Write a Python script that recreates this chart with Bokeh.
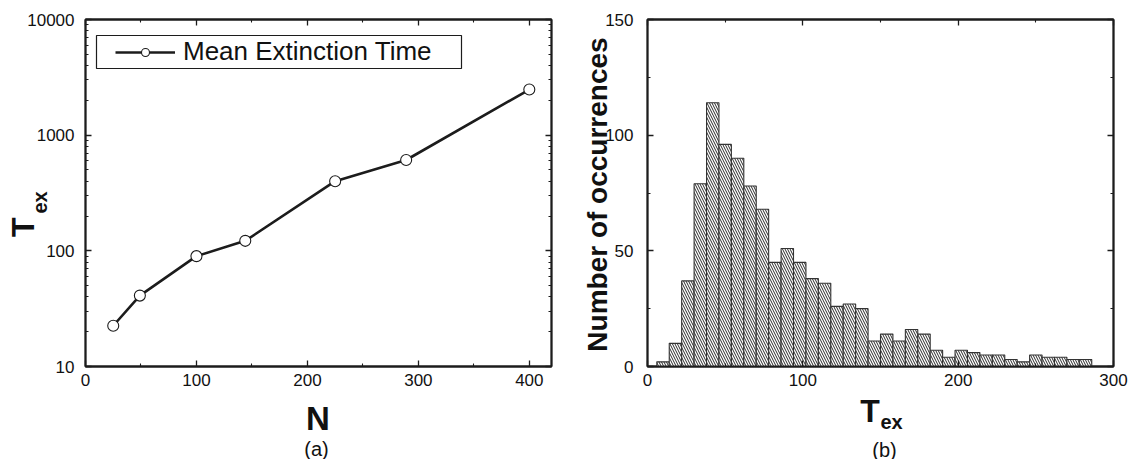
from math import pi

from bokeh.plotting import figure
from bokeh.layouts import row, column
from bokeh.models import (LinearAxis, LogAxis, FixedTicker, BasicTickFormatter,
                          Label, BoxAnnotation, Range1d, ColumnDataSource, GridBox)
from bokeh.embed import file_html
from bokeh.resources import INLINE

# ---- panel (a): mean extinction time against system size N ----
n_sizes = [25, 49, 100, 144, 225, 289, 400]
mean_t_ex = [22.5, 41, 90, 122, 400, 610, 2480]
x_ticks_a = [0, 100, 200, 300, 400]
x_minor_a = [50, 150, 250, 350]
y_ticks_a = [10, 100, 1000, 10000]
y_minor_a = [20, 30, 40, 50, 60, 70, 80, 90,
             200, 300, 400, 500, 600, 700, 800, 900,
             2000, 3000, 4000, 5000, 6000, 7000, 8000, 9000]

# ---- panel (b): histogram of extinction times ----
bin_start = 6
bin_width = 8
counts = [2, 10, 37, 79, 114, 96, 90, 78, 68, 45, 51, 45, 38, 36, 26, 27, 25,
          11, 14, 11, 16, 14, 7, 4, 7, 6, 5, 5, 3, 2, 5, 4, 4, 3, 3]
x_ticks_b = [0, 100, 200, 300]
x_minor_b = [50, 150, 250]
y_ticks_b = [0, 50, 100, 150]
y_minor_b = [25, 75, 125]

FONT = "Liberation Sans"
INK = "#1c1c1c"
W, H = 1133, 459


def style_axis(ax, ticks, minor, labels=True):
    ax.ticker = FixedTicker(ticks=ticks, minor_ticks=minor)
    ax.formatter = BasicTickFormatter(use_scientific=False)
    ax.axis_line_color = INK
    ax.axis_line_width = 1.8
    ax.major_tick_in = 6
    ax.major_tick_out = 0
    ax.minor_tick_in = 3
    ax.minor_tick_out = 0
    ax.major_tick_line_color = INK
    ax.minor_tick_line_color = INK
    ax.major_tick_line_width = 1.3
    ax.minor_tick_line_width = 1.1
    ax.major_label_text_font = FONT
    ax.major_label_text_font_size = "17px"
    ax.major_label_text_color = "#111111"
    ax.major_label_standoff = 7
    ax.axis_label = None
    if not labels:
        # mirrored axis: ticks only
        ax.major_label_text_font_size = "1px"
        ax.major_label_text_color = None
        ax.major_label_standoff = 0


def base_figure(x_range, y_range, left, right, **kw):
    p = figure(frame_width=466, frame_height=347, min_border_left=left,
               min_border_right=right, min_border_top=19, min_border_bottom=93,
               x_range=x_range, y_range=y_range, output_backend="svg",
               toolbar_location=None, background_fill_color="white",
               border_fill_color="white", **kw)
    p.grid.visible = False
    p.outline_line_color = INK
    p.outline_line_width = 1.8
    return p


# ================= panel (a) =================
pa = base_figure(Range1d(0, 420), Range1d(10, 10000), 85, 15, y_axis_type="log")
pa.add_layout(LinearAxis(), "above")
pa.add_layout(LogAxis(), "right")
style_axis(pa.below[0], x_ticks_a, x_minor_a)
style_axis(pa.above[0], x_ticks_a, x_minor_a, labels=False)
style_axis(pa.left[0], y_ticks_a, y_minor_a)
style_axis(pa.right[0], y_ticks_a, y_minor_a, labels=False)
pa.left[0].major_label_standoff = 11

src_a = ColumnDataSource(dict(n=n_sizes, t=mean_t_ex))
pa.line("n", "t", source=src_a, line_color=INK, line_width=2.6,
        legend_label="Mean Extinction Time")
pa.scatter("n", "t", source=src_a, size=11, fill_color="white",
           line_color=INK, line_width=1.1, legend_label="Mean Extinction Time")

leg = pa.legend[0]
leg.location = (30, 299)
leg.margin = 0
leg.padding = 0
leg.spacing = 0
leg.border_line_alpha = 0
leg.background_fill_alpha = 0
leg.glyph_width = 60
leg.glyph_height = 20
leg.label_standoff = 8
leg.label_text_font = FONT
leg.label_text_font_size = "26px"
leg.label_text_color = "#111111"

pa.add_layout(BoxAnnotation(left=11, right=376, top=331, bottom=298,
                            left_units="screen", right_units="screen",
                            top_units="screen", bottom_units="screen",
                            fill_alpha=0, line_color=INK, line_width=1.2,
                            line_alpha=1))

# ================= panel (b) =================
edges = [bin_start + bin_width * i for i in range(len(counts) + 1)]
src_b = ColumnDataSource(dict(left=edges[:-1], right=edges[1:], top=counts,
                              bottom=[0] * len(counts)))

pb = base_figure(Range1d(0, 300), Range1d(0, 150), 81, 20)
pb.add_layout(LinearAxis(), "above")
pb.add_layout(LinearAxis(), "right")
style_axis(pb.below[0], x_ticks_b, x_minor_b)
style_axis(pb.above[0], x_ticks_b, x_minor_b, labels=False)
style_axis(pb.left[0], y_ticks_b, y_minor_b)
style_axis(pb.right[0], y_ticks_b, y_minor_b, labels=False)
pb.left[0].major_label_standoff = 14

pb.quad(left="left", right="right", top="top", bottom="bottom", source=src_b,
        fill_color="white", line_color="#333333", line_width=1.1,
        hatch_pattern="\\", hatch_color="#111111", hatch_scale=5,
        hatch_weight=0.9)

# ================= transparent text layer over both panels =================
# axis titles with subscripts and panel captions, placed in page pixels
txt = figure(width=W, height=H, x_range=Range1d(0, W), y_range=Range1d(0, H),
             min_border=0, x_axis_location=None, y_axis_location=None,
             output_backend="svg", toolbar_location=None)
txt.grid.visible = False
txt.outline_line_color = None
txt.background_fill_alpha = 0
txt.border_fill_alpha = 0


def text(x, y_top, s, size, bold=False, angle=0.0, align="center"):
    txt.add_layout(Label(x=x, y=H - y_top, x_units="screen", y_units="screen",
                         text=s, angle=angle, text_font=FONT,
                         text_font_size=size,
                         text_font_style="bold" if bold else "normal",
                         text_color="#111111", text_align=align,
                         text_baseline="middle"))


# panel (a): rotated y title with subscript, x title, caption
text(22.5, 217, "T", "32px", bold=True, angle=pi / 2, align="right")
text(39, 213, "ex", "20px", bold=True, angle=pi / 2, align="left")
text(317.5, 417.5, "N", "33px", bold=True)
text(316, 448, "(a)", "20px")

# panel (b)
text(597, 194, "Number of occurrences", "28px", bold=True, angle=pi / 2)
text(879.3, 410, "T", "32px", bold=True, align="right")
text(880, 421, "ex", "20px", bold=True, align="left")
text(884, 449, "(b)", "20px")

panels = row(pa, pb)
overlay = column(txt)
layout = GridBox(children=[(panels, 0, 0), (overlay, 0, 0)])
open("out.html", "w").write(file_html(layout, INLINE))
